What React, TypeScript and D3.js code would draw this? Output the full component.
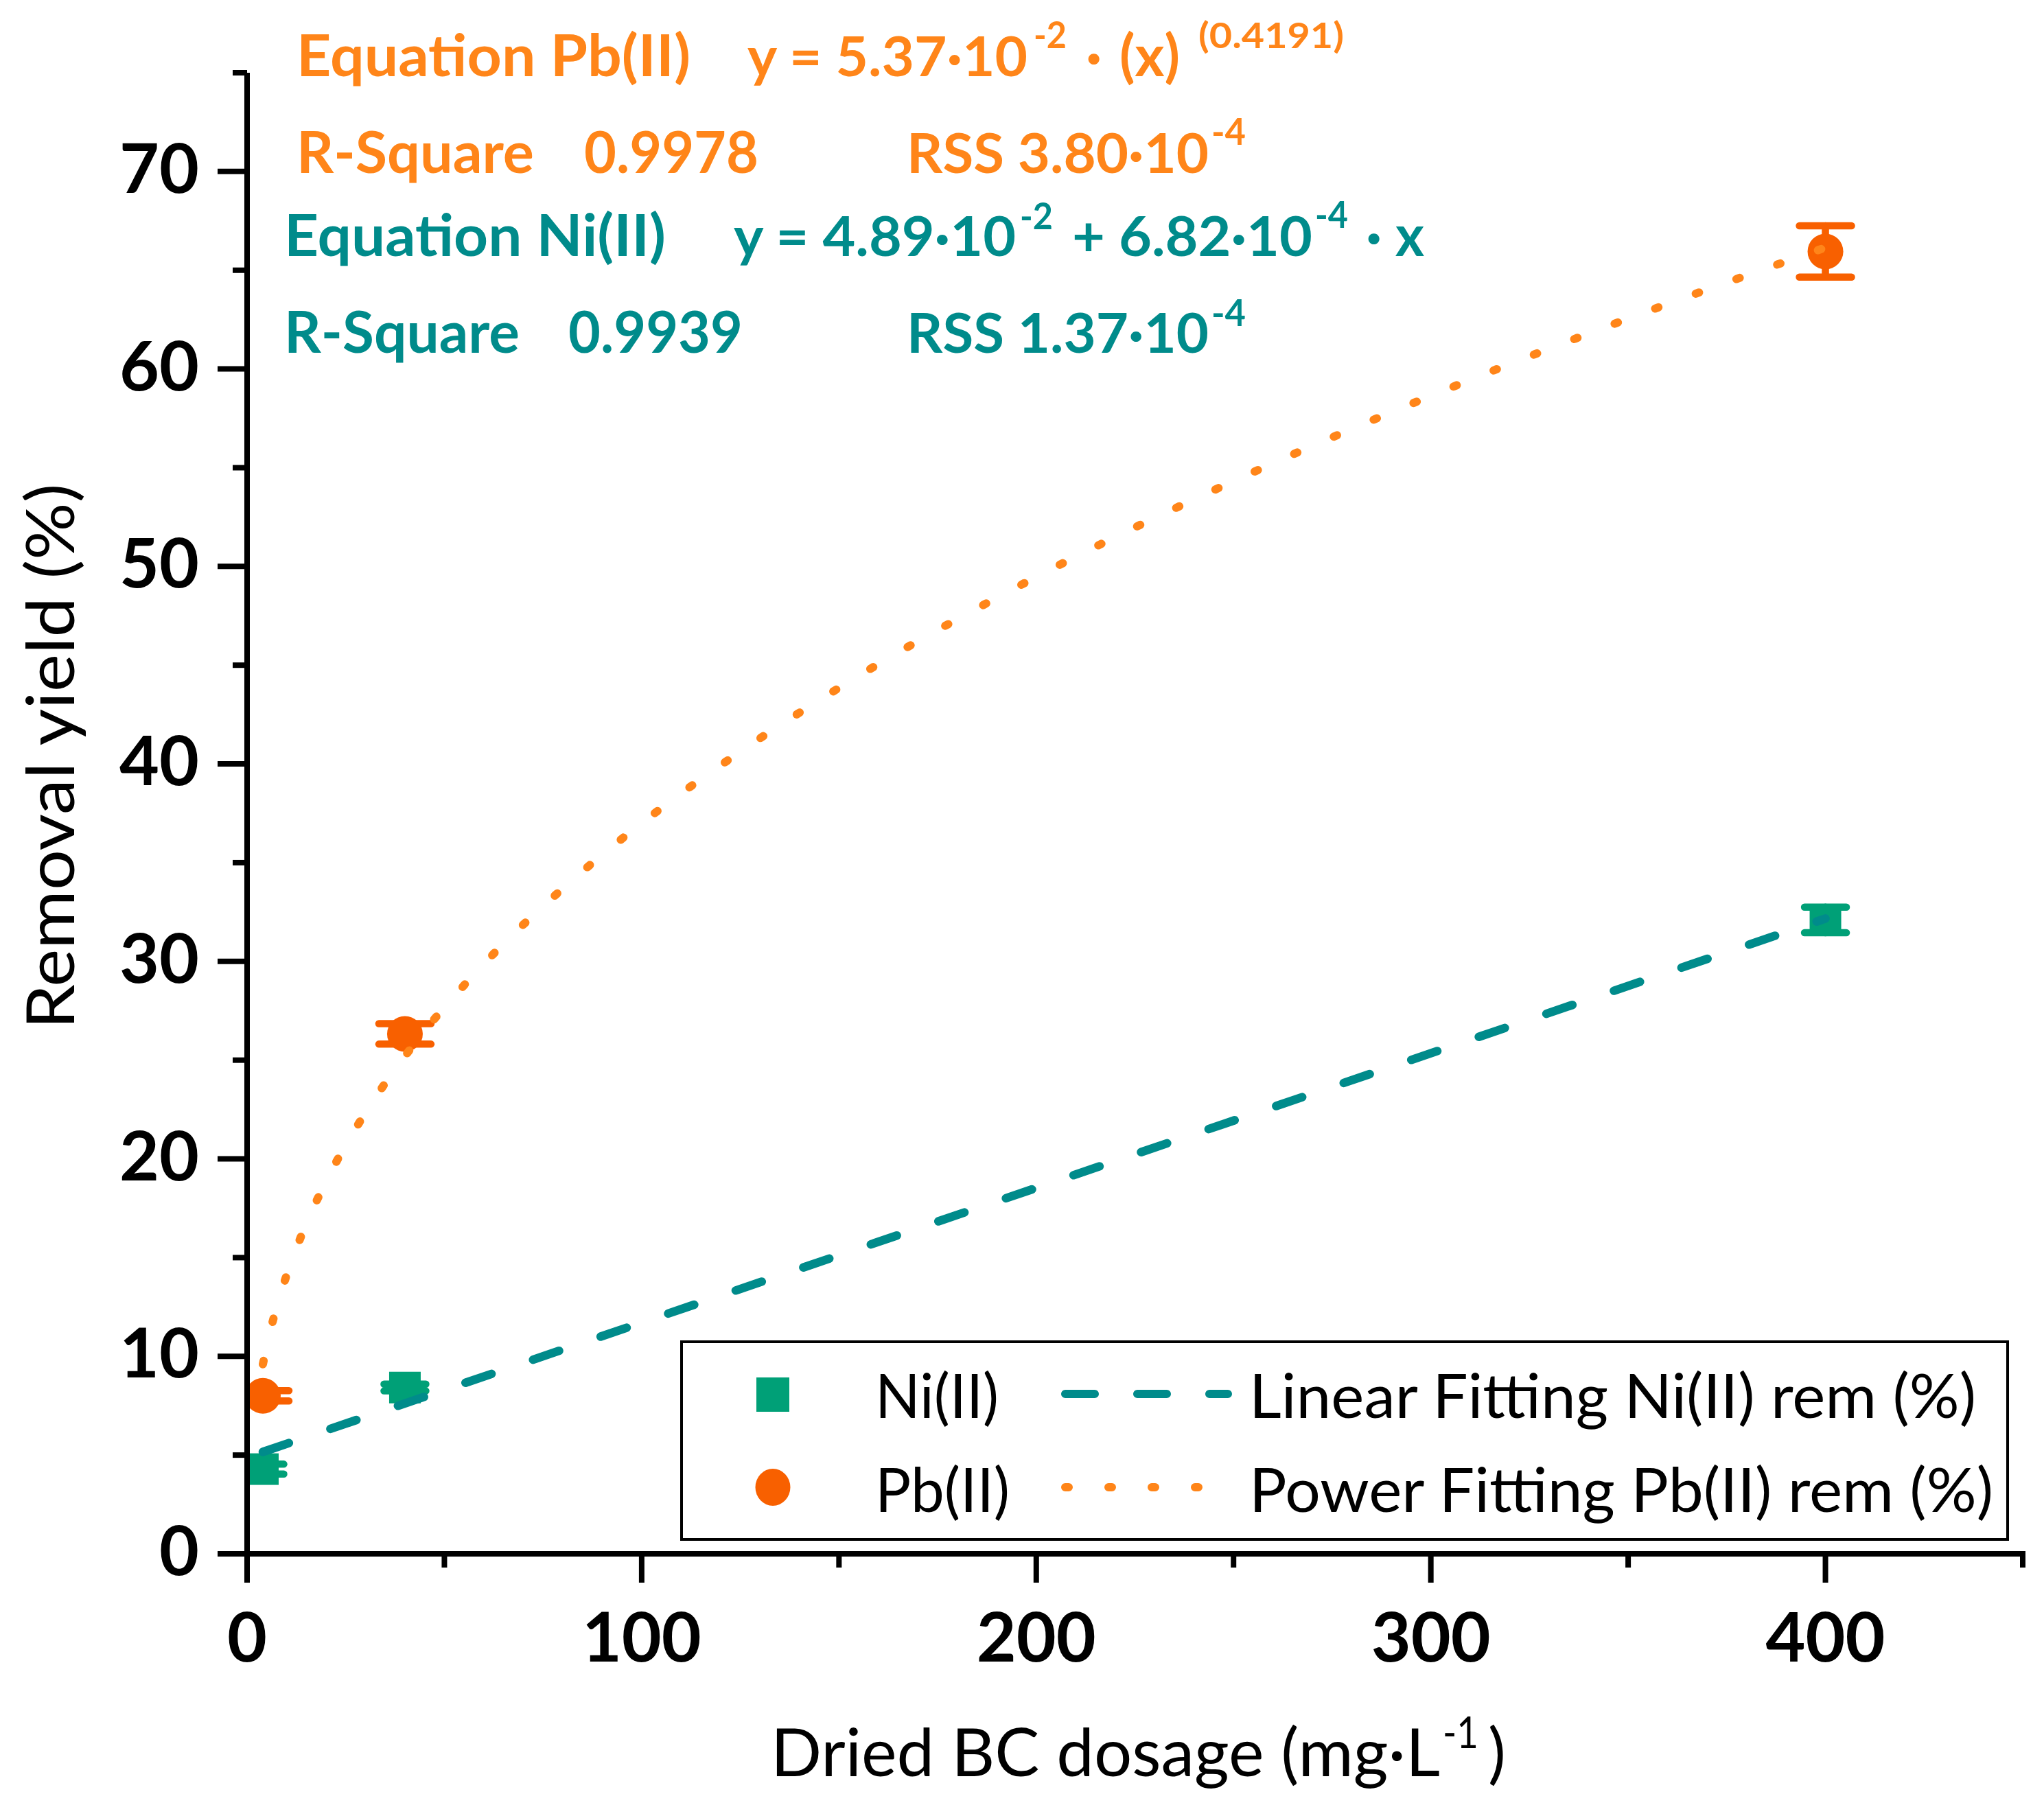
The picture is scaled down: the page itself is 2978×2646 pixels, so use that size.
import React from 'react';
import * as d3 from 'd3';

const W = 2978;
const H = 2646;

// ---- data ----
const dosage = [4, 40, 400];
const niRemoval = [4.29, 8.42, 32.1];
const niError = [0.25, 0.17, 0.65];
const pbRemoval = [8.0, 26.33, 65.95];
const pbError = [0.26, 0.52, 1.3];

// fitted curves as drawn in the picture
const niFitX = [4, 400];
const niFitY = [5.16, 32.17];
const pbFitX = [4, 6, 8, 10, 15, 20, 30, 40, 60, 80, 100, 125, 150, 200, 250, 300, 350, 400];
const pbFitY = [9.6, 11.38, 12.84, 14.1, 16.71, 18.85, 22.34, 25.2, 29.87, 33.69, 37.0, 40.62, 43.85, 49.47, 54.32, 58.64, 62.55, 66.15];

const xMajorTicks = [0, 100, 200, 300, 400];
const xMinorTicks = [50, 150, 250, 350, 450];
const yMajorTicks = [0, 10, 20, 30, 40, 50, 60, 70];
const yMinorTicks = [5, 15, 25, 35, 45, 55, 65, 75];

const NI_MARK = '#00A077';
const PB_MARK = '#F86000';
const TEAL = '#008B8B';
const ORANGE = '#FF8519';
const FONT = "Lato, 'Open Sans', 'DejaVu Sans', sans-serif";

const x = d3.scaleLinear().domain([0, 450]).range([360, 2947]);
const y = d3.scaleLinear().domain([0, 75]).range([2264, 106]);

const lineGen = (curve: any) =>
  d3
    .line<[number, number]>()
    .x((d) => x(d[0]))
    .y((d) => y(d[1]))
    .curve(curve);

// a piece of a text line: string, x, baseline y, target length, font size
type P = { t: string; x: number; y: number; len?: number; size: number };
type Line = { color: string; parts: P[] };

const annotationLines: Line[] = [
  {
    color: ORANGE,
    parts: [
      { t: 'Equation Pb(II)', x: 432, y: 111, len: 574, size: 85 },
      { t: 'y = 5.37·10', x: 1089, y: 111, len: 408, size: 81 },
      { t: '-2', x: 1506, y: 70, len: 48, size: 54 },
      { t: '·', x: 1582, y: 111, size: 85 },
      { t: '(x)', x: 1631, y: 111, len: 88, size: 85 },
      { t: '(0.4191)', x: 1746, y: 70, len: 212, size: 52 },
    ],
  },
  {
    color: ORANGE,
    parts: [
      { t: 'R-Square', x: 432, y: 252, len: 346, size: 85 },
      { t: '0.9978', x: 851, y: 252, len: 254, size: 85 },
      { t: 'RSS 3.80·10', x: 1321, y: 252, len: 440, size: 80 },
      { t: '-4', x: 1765, y: 211, len: 50, size: 54 },
    ],
  },
  {
    color: TEAL,
    parts: [
      { t: 'Equation Ni(II)', x: 414, y: 373, len: 556, size: 85 },
      { t: 'y = 4.89·10', x: 1069, y: 373, len: 411, size: 81 },
      { t: '-2', x: 1486, y: 334, len: 48, size: 54 },
      { t: '+ 6.82·10', x: 1562, y: 373, len: 350, size: 81 },
      { t: '-4', x: 1916, y: 332, len: 48, size: 54 },
      { t: '·', x: 1990, y: 373, size: 85 },
      { t: 'x', x: 2033, y: 373, len: 42, size: 85 },
    ],
  },
  {
    color: TEAL,
    parts: [
      { t: 'R-Square', x: 414, y: 514, len: 343, size: 85 },
      { t: '0.9939', x: 828, y: 514, len: 254, size: 85 },
      { t: 'RSS 1.37·10', x: 1321, y: 514, len: 440, size: 80 },
      { t: '-4', x: 1765, y: 475, len: 50, size: 54 },
    ],
  },
];

const LineText = ({ line, bold }: { line: Line; bold: boolean }) => (
  <text fill={line.color} fontWeight={bold ? 'bold' : 'normal'}>
    {line.parts.map((p, i) => (
      <tspan
        key={i}
        x={p.x}
        y={p.y}
        fontSize={p.size}
        textLength={p.len}
        lengthAdjust={p.len ? 'spacingAndGlyphs' : undefined}
      >
        {p.t}
      </tspan>
    ))}
  </text>
);

const xTitle: Line = {
  color: '#000',
  parts: [
    { t: 'Dried BC dosage (mg·L', x: 1123, y: 2588, len: 975, size: 97 },
    { t: '-1', x: 2102, y: 2547, len: 52, size: 64 },
    { t: ')', x: 2168, y: 2588, size: 97 },
  ],
};

export default function App() {
  const niFit = lineGen(d3.curveLinear)(niFitX.map((v, i) => [v, niFitY[i]] as [number, number])) || '';
  const pbFit = lineGen(d3.curveMonotoneX)(pbFitX.map((v, i) => [v, pbFitY[i]] as [number, number])) || '';

  const errBars = (vals: number[], errs: number[], color: string, capHalf: number, key: string) =>
    dosage.map((d, i) => {
      const cx = x(d);
      const y1 = y(vals[i] - errs[i]);
      const y2 = y(vals[i] + errs[i]);
      return (
        <g key={key + i} stroke={color} strokeWidth={10.5} strokeLinecap="round">
          <line x1={cx} x2={cx} y1={y1} y2={y2} />
          <line x1={cx - capHalf} x2={cx + capHalf} y1={y1} y2={y1} />
          <line x1={cx - capHalf} x2={cx + capHalf} y1={y2} y2={y2} />
        </g>
      );
    });

  return (
    <svg
      width={W}
      height={H}
      viewBox={`0 0 ${W} ${H}`}
      style={{ position: 'absolute', left: 0, top: 0, background: '#fff' }}
      fontFamily={FONT}
    >
      <rect x={0} y={0} width={W} height={H} fill="#fff" />
      <defs>
        <clipPath id="plotClip">
          <rect x={x(0)} y={0} width={x(450) - x(0)} height={y(0)} />
        </clipPath>
      </defs>

      {/* data */}
      <g clipPath="url(#plotClip)">
        {errBars(niRemoval, niError, NI_MARK, 30.5, 'ne')}
        {dosage.map((d, i) => (
          <rect key={'ns' + i} x={x(d) - 23} y={y(niRemoval[i]) - 23} width={46} height={46} fill={NI_MARK} />
        ))}
        {errBars(pbRemoval, pbError, PB_MARK, 38, 'pe')}
        {dosage.map((d, i) => (
          <circle key={'pc' + i} cx={x(d)} cy={y(pbRemoval[i])} r={26} fill={PB_MARK} />
        ))}
        <path d={niFit} fill="none" stroke={TEAL} strokeWidth={12.5} strokeDasharray="40 64" strokeLinecap="round" />
        <path d={pbFit} fill="none" stroke={ORANGE} strokeWidth={12} strokeDasharray="5 58" strokeLinecap="round" />
      </g>

      {/* axes */}
      <g stroke="#000" strokeWidth={8}>
        <line x1={x(0)} x2={x(0)} y1={y(0) + 4} y2={y(75)} />
        <line x1={x(0) - 4} x2={x(450) + 4} y1={y(0)} y2={y(0)} />
        {yMajorTicks.map((t) => (
          <line key={'ymj' + t} x1={x(0) - 43} x2={x(0)} y1={y(t)} y2={y(t)} />
        ))}
        {yMinorTicks.map((t) => (
          <line key={'ymn' + t} x1={x(0) - 21} x2={x(0)} y1={y(t)} y2={y(t)} />
        ))}
        {xMajorTicks.map((t) => (
          <line key={'xmj' + t} x1={x(t)} x2={x(t)} y1={y(0)} y2={y(0) + 42} />
        ))}
        {xMinorTicks.map((t) => (
          <line key={'xmn' + t} x1={x(t)} x2={x(t)} y1={y(0)} y2={y(0) + 20} />
        ))}
      </g>
      <g fontSize={100} fontWeight="bold" fill="#000">
        {yMajorTicks.map((t) => (
          <text key={'yl' + t} x={x(0) - 70} y={y(t) + 31} textAnchor="end">
            {t}
          </text>
        ))}
        {xMajorTicks.map((t) => (
          <text key={'xl' + t} x={x(t)} y={2421} textAnchor="middle">
            {t}
          </text>
        ))}
      </g>

      {/* axis titles */}
      <text
        transform="translate(108,1102) rotate(-90)"
        textAnchor="middle"
        fontSize={97}
        fill="#000"
        textLength={795}
        lengthAdjust="spacingAndGlyphs"
      >
        Removal yield (%)
      </text>
      <LineText line={xTitle} bold={false} />

      {/* annotations */}
      {annotationLines.map((l, i) => (
        <LineText key={'an' + i} line={l} bold={true} />
      ))}

      {/* legend */}
      <rect x={993} y={1955} width={2925 - 993} height={2243 - 1955} fill="#fff" stroke="#000" strokeWidth={4} />
      <rect x={1102} y={2007} width={48} height={50} fill={NI_MARK} />
      <ellipse cx={1126} cy={2167} rx={25.5} ry={27} fill={PB_MARK} />
      <line x1={1552} x2={1789} y1={2031} y2={2031} stroke={TEAL} strokeWidth={12} strokeDasharray="43 62" strokeLinecap="round" />
      <line x1={1552} x2={1748} y1={2167} y2={2167} stroke={ORANGE} strokeWidth={12} strokeDasharray="5 58" strokeLinecap="round" />
      <g fontSize={89} fill="#000">
        <text x={1275} y={2066} textLength={180} lengthAdjust="spacingAndGlyphs">Ni(II)</text>
        <text x={1275} y={2203} textLength={196} lengthAdjust="spacingAndGlyphs">Pb(II)</text>
        <text x={1820} y={2066} textLength={1059} lengthAdjust="spacingAndGlyphs">Linear Fitting Ni(II) rem (%)</text>
        <text x={1820} y={2203} textLength={1084} lengthAdjust="spacingAndGlyphs">Power Fitting Pb(II) rem (%)</text>
      </g>
    </svg>
  );
}
